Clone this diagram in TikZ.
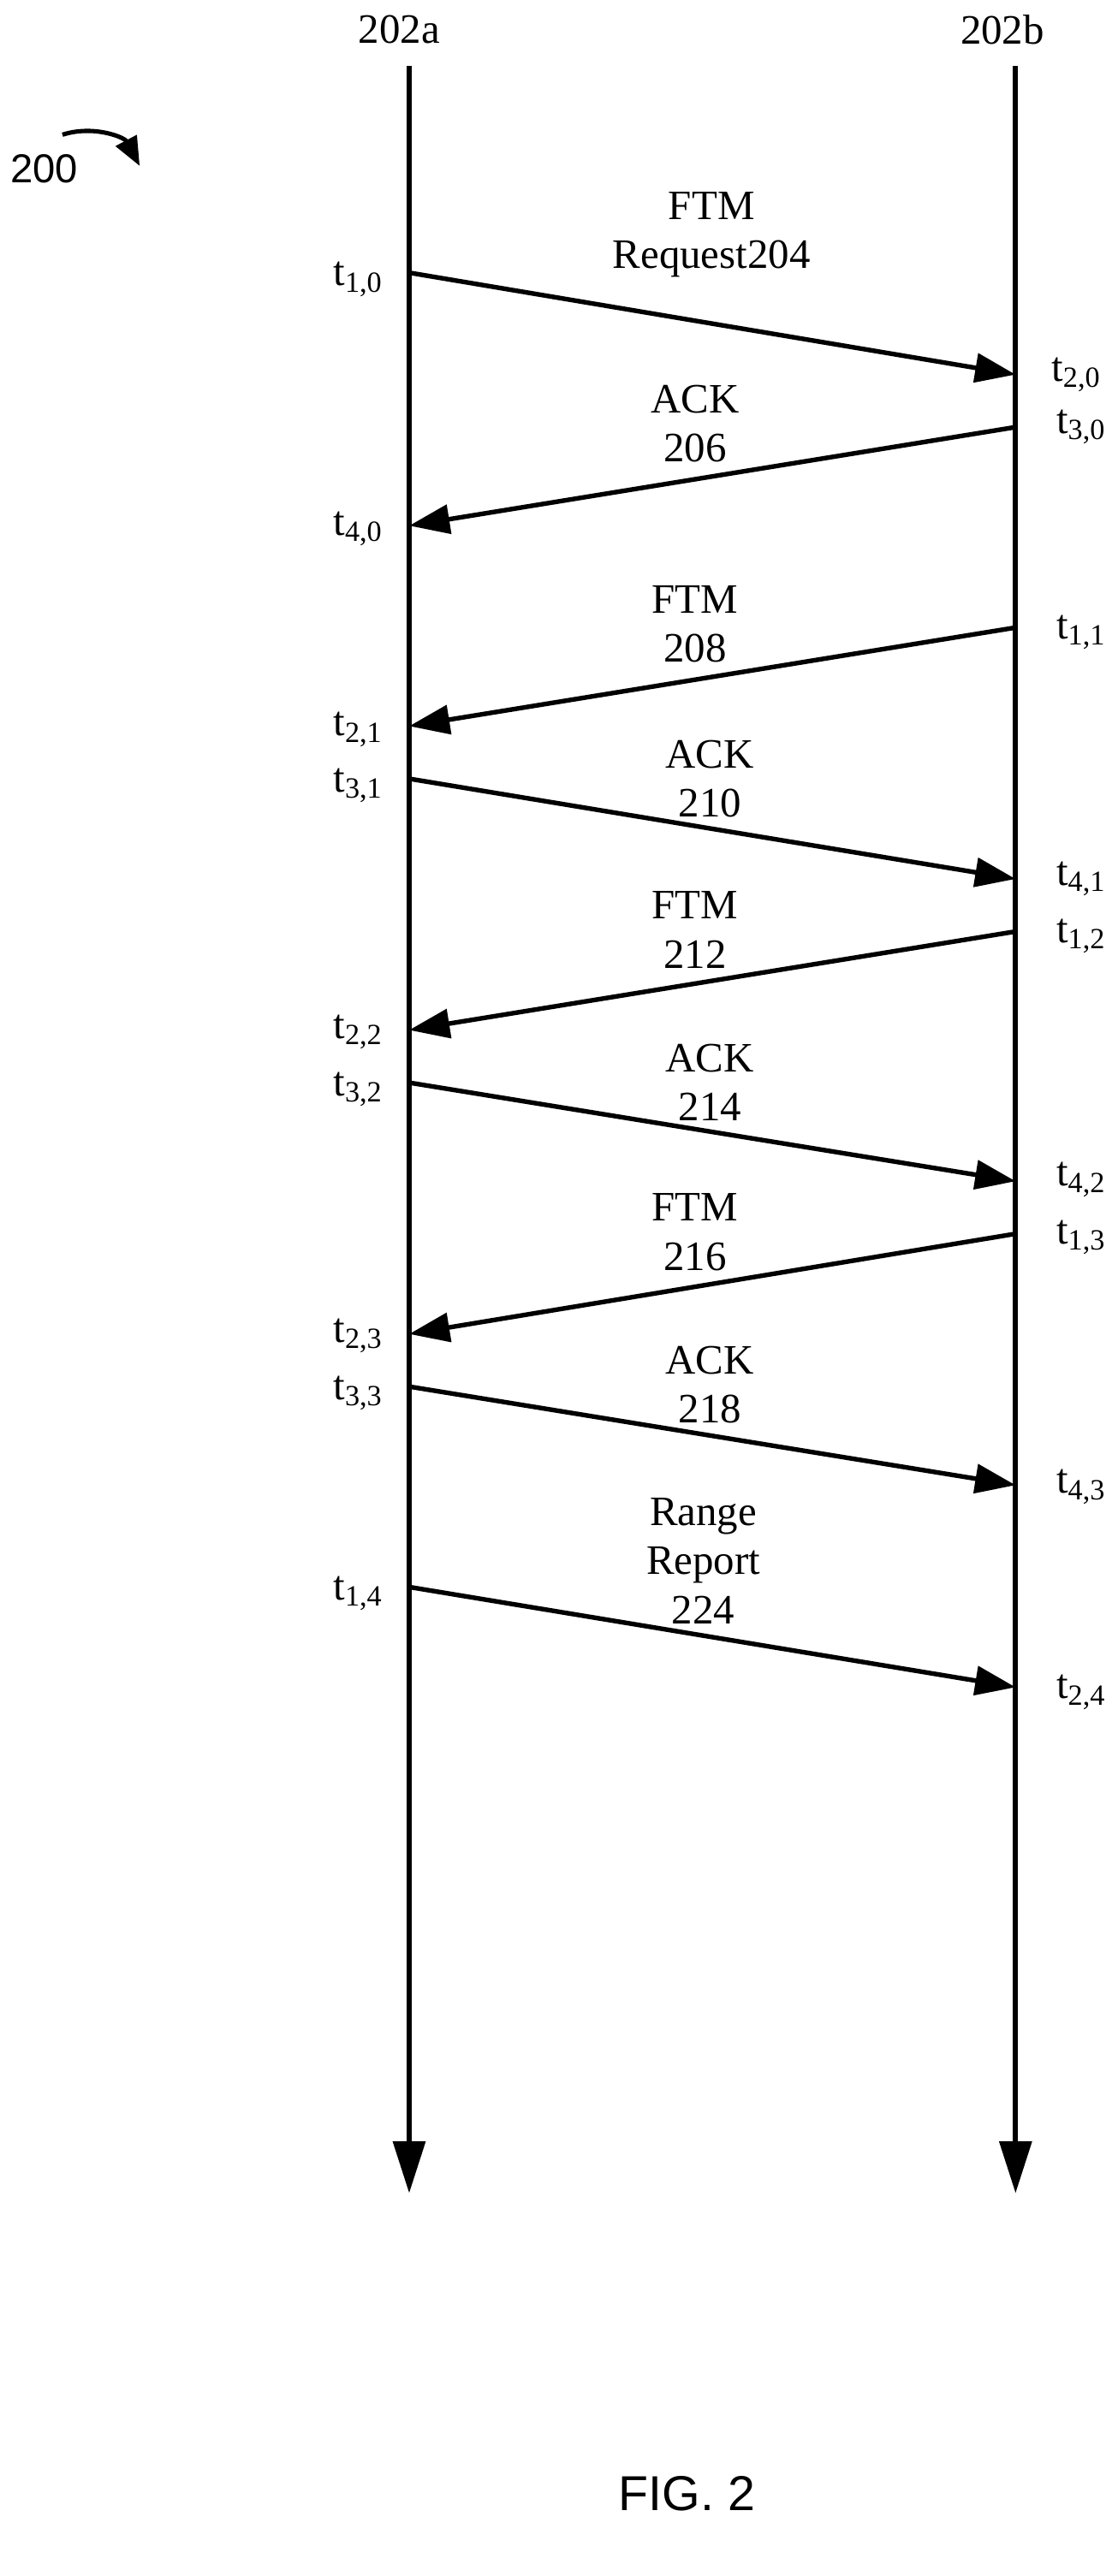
\documentclass[tikz,border=0pt]{standalone}
\usepackage{fontspec}
\setmainfont{Liberation Serif}
\newfontfamily\figfont{Liberation Sans}
\usetikzlibrary{arrows.meta}
\newcommand{\tstamp}[1]{t\textsubscript{#1}}
\begin{document}
\begin{tikzpicture}[x=0.02cm,y=-0.02cm,
  msg/.style={line width=1.6pt,-{Triangle[length=14pt,width=10pt]}},
  life/.style={line width=1.8pt,-{Triangle[length=18pt,width=11pt]}},
  lbl/.style={font=\fontsize{14.5}{17}\selectfont,align=center},
  tlbl/.style={font=\fontsize{14.5}{17}\selectfont,inner sep=0pt}]
\useasboundingbox (0,0) rectangle (680,1568);
% stations
\node[lbl] (A) at (243,18) {202a};
\node[lbl] (B) at (610,18) {202b};
\coordinate (Atop) at (249,40); \coordinate (Abot) at (249,1335);
\coordinate (Btop) at (618,40); \coordinate (Bbot) at (618,1335);
\draw[life] (Atop) -- (Abot);
\draw[life] (Btop) -- (Bbot);
\node[font=\figfont\fontsize{14}{17}\selectfont] (ref) at (27,103) {200};
\coordinate (c1) at (38,82); \coordinate (c2) at (85,101);
\draw[line width=1.5pt,-{Triangle[length=10pt,width=8pt]}] (c1) to[bend left=40] (c2);
% messages
\coordinate (a1) at (249,166); \coordinate (b1) at (618,228);
\coordinate (b2) at (618,260); \coordinate (a2) at (249,320);
\coordinate (b3) at (618,382); \coordinate (a3) at (249,442);
\coordinate (a4) at (249,474); \coordinate (b4) at (618,535);
\coordinate (b5) at (618,567); \coordinate (a5) at (249,627);
\coordinate (a6) at (249,659); \coordinate (b6) at (618,719);
\coordinate (b7) at (618,751); \coordinate (a7) at (249,812);
\coordinate (a8) at (249,844); \coordinate (b8) at (618,904);
\coordinate (a9) at (249,966); \coordinate (b9) at (618,1027);
\draw[msg] (a1) -- (b1);
\draw[msg] (b2) -- (a2);
\draw[msg] (b3) -- (a3);
\draw[msg] (a4) -- (b4);
\draw[msg] (b5) -- (a5);
\draw[msg] (a6) -- (b6);
\draw[msg] (b7) -- (a7);
\draw[msg] (a8) -- (b8);
\draw[msg] (a9) -- (b9);
\node[lbl] (m1) at (433,143) {FTM\\Request204};
\node[lbl] (m2) at (423,258) {ACK\\206};
\node[lbl] (m3) at (423,380) {FTM\\208};
\node[lbl] (m4) at (432,474) {ACK\\210};
\node[lbl] (m5) at (423,566) {FTM\\212};
\node[lbl] (m6) at (432,659) {ACK\\214};
\node[lbl] (m7) at (423,750) {FTM\\216};
\node[lbl] (m8) at (432,843) {ACK\\218};
\node[lbl] (m9) at (428,950) {Range\\Report\\224};
% timestamps
\node[tlbl] (t10) at (218,170) {\tstamp{1,0}};
\node[tlbl] (t20) at (655,228) {\tstamp{2,0}};
\node[tlbl] (t30) at (658,260) {\tstamp{3,0}};
\node[tlbl] (t40) at (218,322) {\tstamp{4,0}};
\node[tlbl] (t11) at (658,385) {\tstamp{1,1}};
\node[tlbl] (t21) at (218,444) {\tstamp{2,1}};
\node[tlbl] (t31) at (218,478) {\tstamp{3,1}};
\node[tlbl] (t41) at (658,535) {\tstamp{4,1}};
\node[tlbl] (t12) at (658,570) {\tstamp{1,2}};
\node[tlbl] (t22) at (218,628) {\tstamp{2,2}};
\node[tlbl] (t32) at (218,663) {\tstamp{3,2}};
\node[tlbl] (t42) at (658,718) {\tstamp{4,2}};
\node[tlbl] (t13) at (658,753) {\tstamp{1,3}};
\node[tlbl] (t23) at (218,813) {\tstamp{2,3}};
\node[tlbl] (t33) at (218,848) {\tstamp{3,3}};
\node[tlbl] (t43) at (658,905) {\tstamp{4,3}};
\node[tlbl] (t14) at (218,970) {\tstamp{1,4}};
\node[tlbl] (t24) at (658,1030) {\tstamp{2,4}};
\node[font=\figfont\fontsize{17}{20}\selectfont] (fig) at (418,1518) {FIG. 2};
\end{tikzpicture}
\end{document}
